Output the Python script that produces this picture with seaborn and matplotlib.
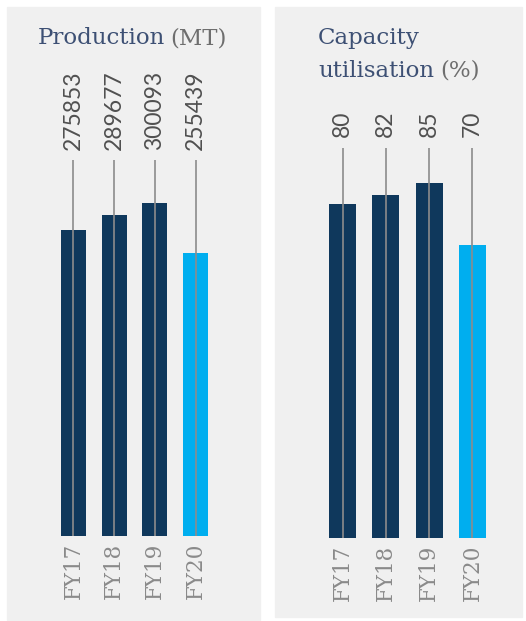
import numpy as np
import pandas as pd
import matplotlib
matplotlib.use("Agg")
import matplotlib.pyplot as plt
from matplotlib.patches import Rectangle
import seaborn as sns

# data
years = ["FY17", "FY18", "FY19", "FY20"]
production = [275853, 289677, 300093, 255439]
capacity = [80, 82, 85, 70]
bar_colors = ["#0f385c", "#0f385c", "#0f385c", "#00aeef"]

W, H = 526, 621
PANEL = "#f0f0f0"
TITLE_C = "#3d5074"
GREY_T = "#6e6e6e"
TICK_C = "#8a8a8a"
LINE_C = "#8c8c8c"

sns.set_style("white")


def fx(x):
    return x / W


def fy(y):
    return 1 - y / H


def px_axes(fig, x0, x1, ytop, ybot):
    ax = fig.add_axes([fx(x0), fy(ybot), (x1 - x0) / W, (ybot - ytop) / H])
    ax.set_zorder(2)
    return ax


def draw_panel(ax, values, line_top, ymax, width, label_pad):
    df = pd.DataFrame({"year": years, "value": values})
    sns.barplot(data=df, x="year", y="value", hue="year", palette=bar_colors,
                width=width, saturation=1, legend=False, linewidth=0, ax=ax, zorder=2)
    xs = np.arange(len(values))
    ax.vlines(xs, 0, line_top, color=LINE_C, lw=1.2, zorder=3)
    for x, v in zip(xs, values):
        ax.annotate(f"{v}", (x, line_top), xytext=(0, label_pad), textcoords="offset points",
                    rotation=90, ha="center", va="bottom", fontsize=16.5,
                    family="Lato", color="#505050")
    ax.set_xlim(-1, 4)
    ax.set_ylim(0, ymax)
    ax.set_facecolor("none")
    for s in ax.spines.values():
        s.set_visible(False)
    ax.set_yticks([])
    ax.set_xlabel("")
    ax.set_ylabel("")
    ax.set_xticks(xs)
    ax.set_xticklabels(years, rotation=90, family="DejaVu Serif", fontsize=15.5, color=TICK_C)
    ax.tick_params(axis="x", length=0, pad=5)


fig = plt.figure(figsize=(W / 100, H / 100), dpi=100)
fig.patch.set_facecolor("white")

# grey panels
fig.patches.append(Rectangle((fx(7), fy(620)), (260 - 7) / W, (620 - 7) / H,
                             transform=fig.transFigure, color=PANEL, zorder=-10))
fig.patches.append(Rectangle((fx(275), fy(617)), (522 - 275) / W, (617 - 7) / H,
                             transform=fig.transFigure, color=PANEL, zorder=-10))

# left: production
ax1 = px_axes(fig, 32.8, 236.2, 8, 536)
draw_panel(ax1, production, 339000, 528 / 0.001109, 0.615, 7)

# right: capacity utilisation
ax2 = px_axes(fig, 299.2, 515.8, 8, 538)
draw_panel(ax2, capacity, 93.3, 530 / 4.18, 0.62, 8)

# titles
fig.text(fx(38), fy(44), "Production", family="DejaVu Serif", fontsize=16.5,
         color=TITLE_C, va="baseline")
fig.text(fx(170), fy(44), "(MT)", family="DejaVu Serif", fontsize=16.5,
         color=GREY_T, va="baseline")
fig.text(fx(318), fy(44), "Capacity", family="DejaVu Serif", fontsize=16.5,
         color=TITLE_C, va="baseline")
fig.text(fx(318), fy(77), "utilisation", family="DejaVu Serif", fontsize=16.5,
         color=TITLE_C, va="baseline")
fig.text(fx(440), fy(77), "(%)", family="DejaVu Serif", fontsize=16.5,
         color=GREY_T, va="baseline")

fig.savefig("out.png", dpi=100, facecolor="white")
